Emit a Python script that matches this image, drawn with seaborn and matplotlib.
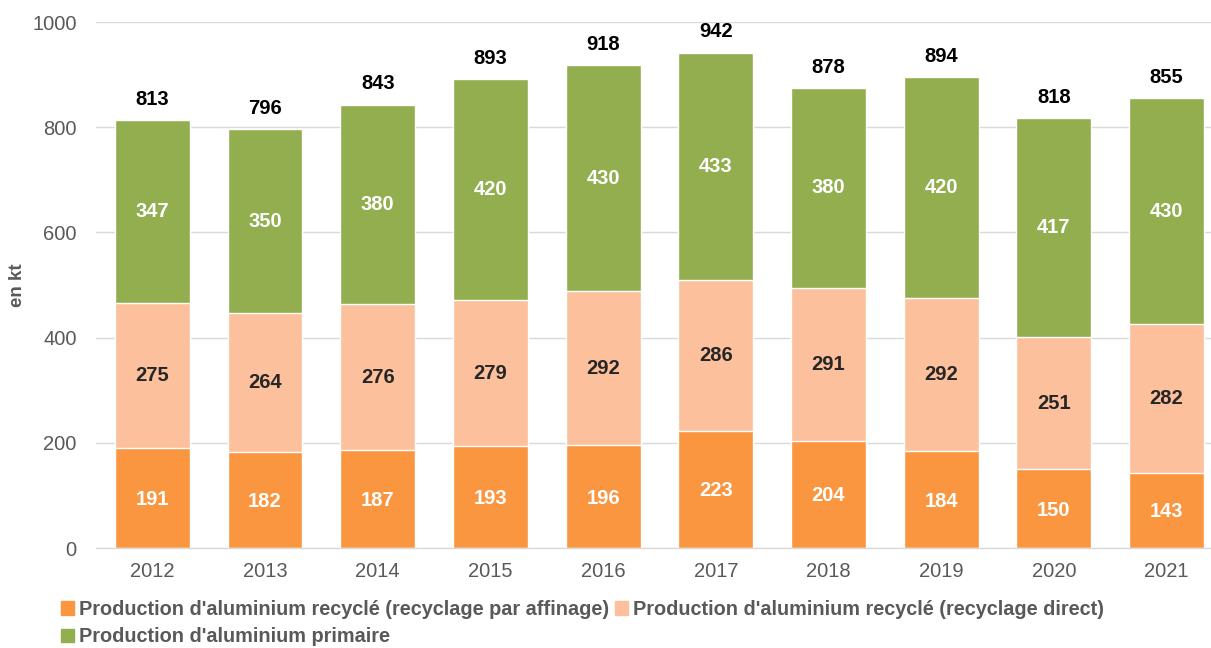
import matplotlib
matplotlib.use("Agg")
import matplotlib.pyplot as plt
import seaborn as sns
import numpy as np
import pandas as pd
from matplotlib.patches import Patch

years = ["2012", "2013", "2014", "2015", "2016", "2017", "2018", "2019", "2020", "2021"]
affinage = [191, 182, 187, 193, 196, 223, 204, 184, 150, 143]
direct = [275, 264, 276, 279, 292, 286, 291, 292, 251, 282]
primaire = [347, 350, 380, 420, 430, 433, 380, 420, 417, 430]
totals = [813, 796, 843, 893, 918, 942, 878, 894, 818, 855]

series_names = [
    "Production d'aluminium recyclé (recyclage par affinage)",
    "Production d'aluminium recyclé (recyclage direct)",
    "Production d'aluminium primaire",
]
c_aff = "#F9963F"
c_dir = "#FCC09C"
c_pri = "#92AE4F"

sns.set_theme(style="white")
plt.rcParams['font.family'] = ['Liberation Sans', 'DejaVu Sans']

fig = plt.figure(figsize=(12.11, 6.48), dpi=100)
ax = fig.add_axes([96/1211, 100/648, 1 - 96/1211, (548-22)/648])

df = pd.DataFrame({"year": years, "aff": affinage, "dir": direct, "pri": primaire})
df["c2"] = df["aff"] + df["dir"]
df["c3"] = df["c2"] + df["pri"]

ax.yaxis.grid(True, color="#D9D9D9", linewidth=1)
ax.set_axisbelow(True)
w = 0.665
sns.barplot(data=df, x="year", y="c3", color=c_pri, saturation=1, width=w, ax=ax, zorder=2)
sns.barplot(data=df, x="year", y="c2", color=c_dir, saturation=1, width=w, ax=ax, zorder=3)
sns.barplot(data=df, x="year", y="aff", color=c_aff, saturation=1, width=w, ax=ax, zorder=4)

fs = 14.5
for i in range(len(years)):
    a, d, p = affinage[i], direct[i], primaire[i]
    ax.text(i, a / 2 - 3, str(a), ha="center", va="center", color="white", fontsize=fs, fontweight="bold", zorder=5)
    ax.text(i, a + d / 2, str(d), ha="center", va="center", color="#262626", fontsize=fs, fontweight="bold", zorder=5)
    ax.text(i, a + d + p / 2, str(p), ha="center", va="center", color="white", fontsize=fs, fontweight="bold", zorder=5)
    ax.annotate(str(totals[i]), (i, a + d + p), xytext=(0, 8), textcoords="offset points",
                ha="center", va="bottom", color="black", fontsize=fs, fontweight="bold", zorder=5)

ax.set_ylim(0, 1000)
ax.set_xlim(-0.5, 9.395)
ax.set_yticks([0, 200, 400, 600, 800, 1000])
ax.tick_params(axis="both", length=0, labelsize=14.5, labelcolor="#595959")
ax.tick_params(axis="y", pad=14)
ax.tick_params(axis="x", pad=10)
ax.set_xlabel("")
ax.set_ylabel("en kt", fontsize=13.5, fontweight="bold", color="#595959", labelpad=4)
for s in ["top", "right", "left"]:
    ax.spines[s].set_visible(False)
ax.spines["bottom"].set_color("#D9D9D9")
ax.spines["bottom"].set_linewidth(1)
ax.spines["bottom"].set_zorder(6)

handles = [Patch(color=c_aff), Patch(color=c_pri), Patch(color=c_dir)]
labels = [series_names[0], series_names[2], series_names[1]]
fig.legend(handles, labels, loc="upper left", bbox_to_anchor=(51/1211, 1 - 590/648),
           ncol=2, frameon=False, borderpad=0, handlelength=0.65, handleheight=0.65,
           handletextpad=0.25, columnspacing=0.3, labelspacing=0.42,
           prop={"size": 14.3, "weight": "bold"}, labelcolor="#595959")

fig.savefig("out.png", dpi=100)
